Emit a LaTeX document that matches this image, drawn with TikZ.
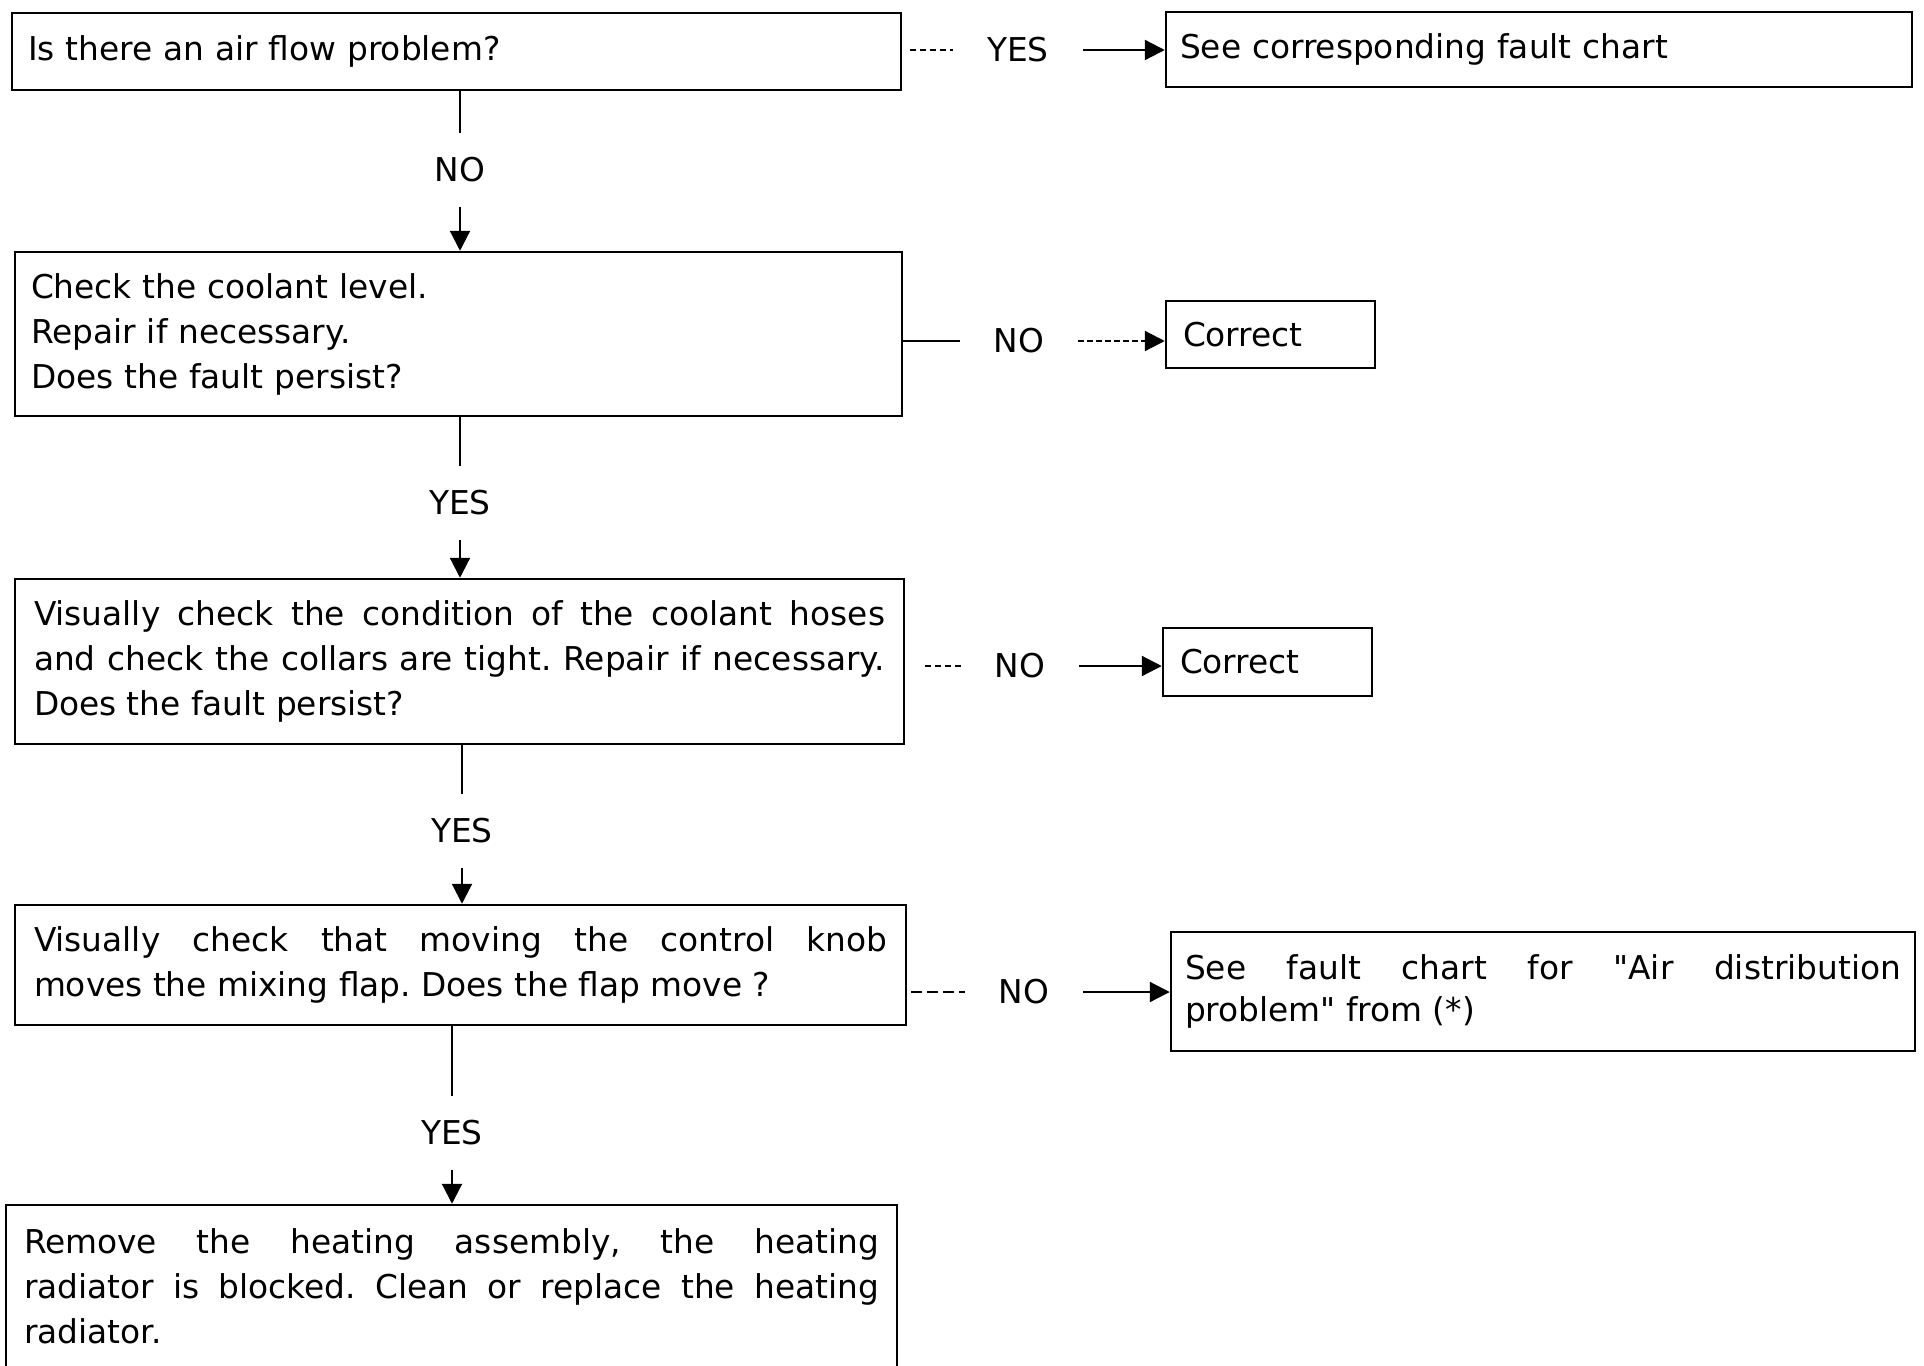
\documentclass[tikz,border=0pt]{standalone}
\usepackage{fontspec}
\setmainfont{DejaVu Sans}[Ligatures=TeXOff]
\usetikzlibrary{arrows.meta}
\frenchspacing
\newcommand{\boxfont}{\fontsize{32.8}{45}\selectfont\tolerance=10000\hyphenpenalty=10000\pretolerance=-1\frenchspacing}
\newcommand{\boxfonttight}{\fontsize{32.8}{42}\selectfont\tolerance=10000\hyphenpenalty=10000\pretolerance=-1\frenchspacing}
\begin{document}
\begin{tikzpicture}[x=1pt,y=-1pt,
  box/.style={draw, line width=2.5pt, rectangle, align=left, font=\boxfont, inner ysep=0pt},
  jbox/.style={box, align=justify},
  lbl/.style={font=\fontsize{32.8}{40}\selectfont, inner xsep=34pt, inner ysep=24pt},
  conn/.style={line width=2pt},
  arr/.style={line width=2.2pt, -{Triangle[length=20pt,width=20pt]}},
  darr/.style={arr, dash pattern=on 6pt off 3pt},
  stub/.style={line width=2pt, dash pattern=on 6pt off 4pt},
  stubw/.style={line width=2pt, dash pattern=on 11pt off 5pt}]
\useasboundingbox (0,0) rectangle (1924,1365);

% main column boxes
\node[box, minimum width=889pt, minimum height=77pt, inner xsep=16pt, text width=857pt] (b1) at (456.5,51.5)
  {Is there an air flow problem?};
\node[box, minimum width=887pt, minimum height=164pt, inner xsep=16pt, text width=855pt] (b2) at (458.5,334)
  {Check the coolant level.\\Repair if necessary.\\Does the fault persist?};
\node[jbox, minimum width=889pt, minimum height=165pt, inner xsep=19pt, text width=851pt] (b3) at (459.5,661.5)
  {Visually check the condition of the coolant hoses\linebreak and check the collars are tight. Repair if necessary.\linebreak Does the fault persist?};
\node[jbox, minimum width=891pt, minimum height=120pt, inner xsep=19pt, text width=853pt] (b4) at (460.5,965)
  {Visually check that moving the control knob\linebreak moves the mixing flap. Does the flap move ?};
\node[jbox, minimum width=891pt, minimum height=163pt, inner xsep=18pt, text width=855pt] (b5) at (451.5,1286.5)
  {Remove the heating assembly, the heating\linebreak radiator is blocked. Clean or replace the heating\linebreak radiator.};

% right column boxes
\node[box, minimum width=746pt, minimum height=75pt, inner xsep=14pt, text width=718pt] (r1) at (1539,49.5)
  {See corresponding fault chart};
\node[box, minimum width=209pt, minimum height=67pt, inner xsep=17pt, text width=175pt] (c1) at (1270.5,334.5)
  {Correct};
\node[box, minimum width=209pt, minimum height=68pt, inner xsep=17pt, text width=175pt] (c2) at (1267.5,662)
  {Correct};
\node[jbox, font=\boxfonttight, minimum width=744pt, minimum height=119pt, inner xsep=14pt, text width=716pt] (r4) at (1543,991.5)
  {See fault chart for "Air distribution\linebreak problem" from (*)};

% vertical labels
\node[lbl] (n1) at (460,170) {NO};
\node[lbl] (v2) at (460,503) {YES};
\node[lbl] (v3) at (462,831) {YES};
\node[lbl] (v4) at (452,1133) {YES};

% horizontal labels
\node[lbl] (h1) at (1018,50) {YES};
\node[lbl] (h2) at (1019,341) {NO};
\node[lbl] (h3) at (1020,666) {NO};
\node[lbl] (h4) at (1024,992) {NO};

% vertical connectors
\draw[conn] (b1.south -| n1) -- (n1.north);
\draw[arr] (n1.south) -- (b2.north -| n1);
\draw[conn] (b2.south -| v2) -- (v2.north);
\draw[arr] (v2.south) -- (b3.north -| v2);
\draw[conn] (b3.south -| v3) -- (v3.north);
\draw[arr] (v3.south) -- (b4.north -| v3);
\draw[conn] (b4.south -| v4) -- (v4.north);
\draw[arr] (v4.south) -- (b5.north -| v4);

% horizontal connectors
\draw[stub, shorten <=8pt] (b1.east |- h1) -- (h1.west);
\draw[arr] (h1.east) -- (r1.west |- h1);
\draw[conn] (b2.east |- h2) -- (h2.west);
\draw[darr] (h2.east) -- (c1.west |- h2);
\draw[stub, shorten <=20pt] (b3.east |- h3) -- (h3.west);
\draw[arr] (h3.east) -- (c2.west |- h3);
\draw[stubw, shorten <=4pt] (b4.east |- h4) -- (h4.west);
\draw[arr] (h4.east) -- (r4.west |- h4);
\end{tikzpicture}
\end{document}
